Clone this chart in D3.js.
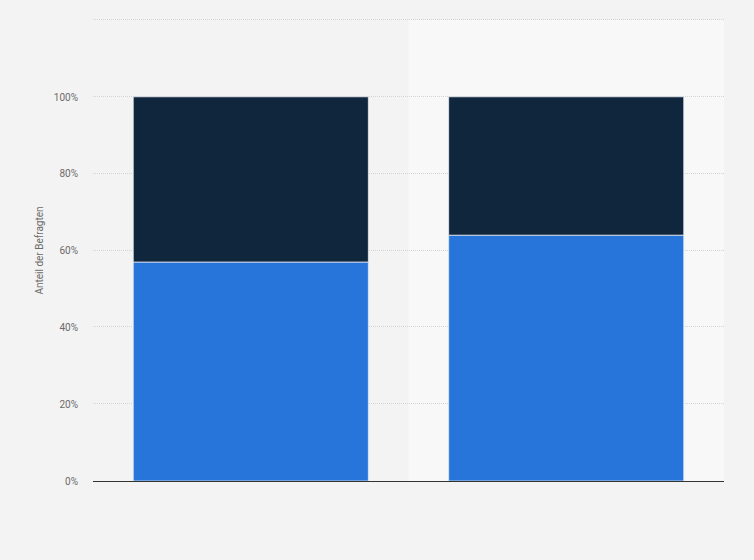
<!DOCTYPE html>
<html>
<head>
<meta charset="utf-8">
<script src="https://cdn.jsdelivr.net/npm/d3@7"></script>
<style>
  body { margin: 0; background: #f3f3f3; }
  svg { display: block; font-family: Roboto, "Open Sans", sans-serif; }
</style>
</head>
<body>
<div id="chart"></div>
<script>
// data
const categories = ["Gruppe 1", "Gruppe 2"];
const seriesNames = ["Ja", "Nein"];
const seriesColors = ["#2775db", "#10263d"];
const valuesA = [57, 64];
const valuesB = [43, 36];
const yTicks = [0, 20, 40, 60, 80, 100, 120];

const width = 754;
const height = 560;
const margin = {top: 20, right: 30, bottom: 79, left: 93};

const svg = d3.select("#chart")
    .append("svg")
    .attr("width", width)
    .attr("height", height);

svg.append("rect")
    .attr("width", width)
    .attr("height", height)
    .attr("fill", "#f3f3f3");

const x = d3.scaleBand()
    .domain(categories)
    .range([margin.left, width - margin.right])
    .padding(0);

const y = d3.scaleLinear()
    .domain([0, 120])
    .range([height - margin.bottom, margin.top]);

// alternating background bands
svg.selectAll(".band")
    .data(categories)
    .join("rect")
    .attr("class", "band")
    .attr("x", d => x(d))
    .attr("y", y(120))
    .attr("width", x.bandwidth())
    .attr("height", y(0) - y(120))
    .attr("fill", (d, i) => i % 2 ? "#f8f8f8" : "#f3f3f3");

// gridlines
svg.selectAll(".grid")
    .data(yTicks.filter(d => d > 0))
    .join("line")
    .attr("class", "grid")
    .attr("x1", margin.left)
    .attr("x2", width - margin.right)
    .attr("y1", d => Math.round(y(d)) - 0.5)
    .attr("y2", d => Math.round(y(d)) - 0.5)
    .attr("stroke", "#d4d4d4")
    .attr("stroke-width", 1)
    .attr("stroke-dasharray", "1,1");

// stacked bars
const rows = categories.map((c, i) => ({cat: c, Ja: valuesA[i], Nein: valuesB[i]}));
const stack = d3.stack().keys(seriesNames)(rows);

const barW = x.bandwidth() * 0.745;

svg.selectAll(".series")
    .data(stack)
    .join("g")
    .attr("class", "series")
    .attr("fill", (d, i) => seriesColors[i])
    .selectAll("rect")
    .data(d => d)
    .join("rect")
    .attr("x", d => x(d.data.cat) + (x.bandwidth() - barW) / 2)
    .attr("y", d => y(d[1]))
    .attr("width", barW)
    .attr("height", d => y(d[0]) - y(d[1]))
    .attr("stroke", "#dfe6ee")
    .attr("stroke-width", 0.8);

// y axis labels
const yAxis = d3.axisLeft(y)
    .tickValues(yTicks.filter(d => d <= 100))
    .tickFormat(d => d + "%")
    .tickSize(0)
    .tickPadding(0);

svg.append("g")
    .attr("transform", `translate(${margin.left - 15},0)`)
    .call(yAxis)
    .call(g => g.select(".domain").remove())
    .selectAll("text")
    .attr("fill", "#6b6b6b")
    .attr("font-size", 10)
    .attr("font-family", "Roboto, sans-serif");

// baseline
svg.append("line")
    .attr("x1", margin.left)
    .attr("x2", width - margin.right)
    .attr("y1", y(0) + 0.5)
    .attr("y2", y(0) + 0.5)
    .attr("stroke", "#333")
    .attr("stroke-width", 1);

// y axis title
svg.append("text")
    .attr("transform", `translate(43,${(y(0) + y(120)) / 2}) rotate(-90)`)
    .attr("text-anchor", "middle")
    .attr("fill", "#6b6b6b")
    .attr("font-size", 10)
    .text("Anteil der Befragten");
</script>
</body>
</html>
